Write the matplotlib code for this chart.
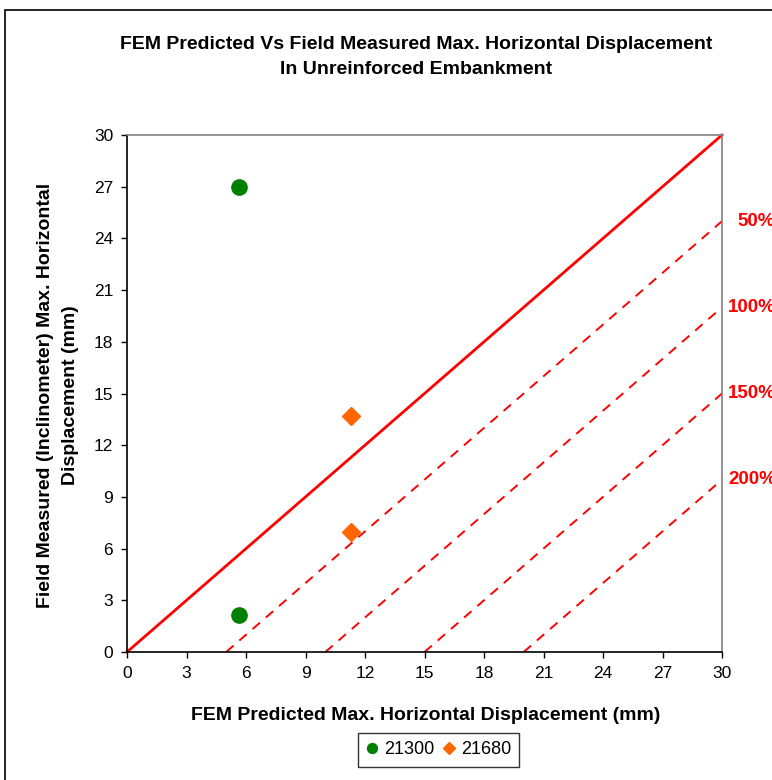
import matplotlib
matplotlib.use("Agg")
import matplotlib.pyplot as plt
from matplotlib.patches import Rectangle

plt.rcParams['font.family'] = ['Liberation Sans', 'DejaVu Sans']

# Data
series_names = ["21300", "21680"]
x_21300 = [5.65, 5.65]
y_21300 = [27.0, 2.15]
x_21680 = [11.3, 11.3]
y_21680 = [13.7, 6.95]
line_offsets = [5, 10, 15, 20]
line_labels = ["50%", "100%", "150%", "200%"]
ticks = [0, 3, 6, 9, 12, 15, 18, 21, 24, 27, 30]

W, H = 772, 780
fig = plt.figure(figsize=(W / 100, H / 100), dpi=100)
ax = fig.add_axes([127 / W, 1 - 652 / H, (722 - 127) / W, (652 - 135) / H])
ax.set_xlim(0, 30)
ax.set_ylim(0, 30)

# 1:1 line
ax.plot([0, 30], [0, 30], color='#FF0000', lw=2.0, zorder=2, clip_on=False)
# offset dashed lines
for off in line_offsets:
    ax.plot([off, 30], [0, 30 - off], color='#FF0000', lw=1.4,
            dashes=(5, 4), zorder=2)

ax.plot(x_21300, y_21300, 'o', color='#008000', ms=11, mec='#008000',
        label=series_names[0], zorder=3, linestyle='none')
ax.plot(x_21680, y_21680, 'D', color='#FF6600', ms=9, mec='#FF6600',
        label=series_names[1], zorder=3, linestyle='none')

# labels of percentage lines (partly beyond the figure edge, as in the original)
for off, lab in zip(line_offsets, line_labels):
    xt = 30.76 if lab == "50%" else 30.3
    ax.text(xt, 30 - off, lab, color='#FF0000', fontsize=13.5, fontweight='bold',
            ha='left', va='center', clip_on=False)

ax.set_xticks(ticks)
ax.set_yticks(ticks)
ax.tick_params(direction='out', length=4, labelsize=12.5, width=1, pad=6,
               color='black')
for s in ['left', 'bottom']:
    ax.spines[s].set_color('black')
    ax.spines[s].set_linewidth(1.2)
for s in ['top', 'right']:
    ax.spines[s].set_color('#808080')
    ax.spines[s].set_linewidth(1.2)

fig.text(416 / W, 1 - 57 / H,
         "FEM Predicted Vs Field Measured Max. Horizontal Displacement\nIn Unreinforced Embankment",
         ha='center', va='center', fontsize=14, fontweight='bold', linespacing=1.55)
fig.text(426 / W, 1 - 715 / H, "FEM Predicted Max. Horizontal Displacement (mm)",
         ha='center', va='center', fontsize=14, fontweight='bold')
fig.text(58 / W, 1 - 395 / H,
         "Field Measured (Inclinometer) Max. Horizontal\nDisplacement (mm)",
         ha='center', va='center', fontsize=14, fontweight='bold', rotation=90,
         linespacing=1.55)

leg = fig.legend(loc='center', bbox_to_anchor=(438.5 / W, 1 - 750 / H), ncol=2,
                 fontsize=13, frameon=True, fancybox=False, handlelength=0.7,
                 handletextpad=0.3, columnspacing=0.5, borderpad=0.45,
                 markerscale=0.65)
leg.get_frame().set_edgecolor('black')
leg.get_frame().set_linewidth(1.0)

# figure border (left and top visible)
top = 1 - 10 / H
fig.patches.append(Rectangle((5 / W, top - 2), 2, 2, transform=fig.transFigure,
                             fill=False, edgecolor='black', lw=1.2))

fig.savefig('out.png', dpi=100)
